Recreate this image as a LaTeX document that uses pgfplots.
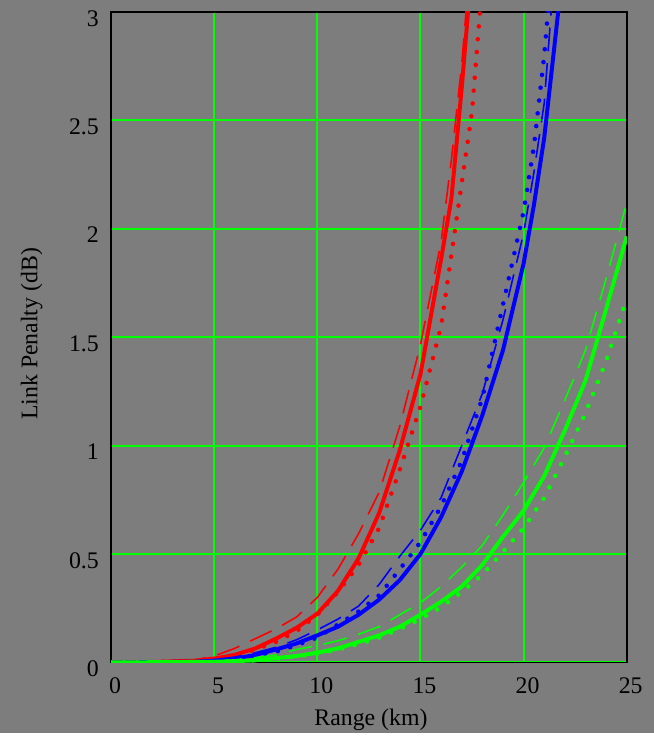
\documentclass[border=0pt]{standalone}
\usepackage{fontspec}
\setmainfont{Liberation Serif}
\usepackage{pgfplots}
\pgfplotsset{compat=1.18}
\definecolor{bg}{RGB}{125,125,125}
\definecolor{grd}{RGB}{0,255,0}
\definecolor{cr}{RGB}{255,0,0}
\definecolor{cb}{RGB}{0,0,255}
\definecolor{cg}{RGB}{0,255,0}
\tikzset{
  thick solid/.style={line width=2pt, line join=round},
  thin dashed/.style={line width=0.8pt, dash pattern=on 12pt off 6pt},
  thick dotted/.style={line width=2.3pt, line cap=round, dash pattern=on 0pt off 6.5pt},
}
\begin{document}
\fontsize{12}{14}\selectfont
\begin{tikzpicture}
\fill[bg] (-56pt,-35.5pt) rectangle (273.5pt,334pt);
\begin{axis}[
  scale only axis,
  width=260pt, height=328pt,
  xmin=0, xmax=25, ymin=0, ymax=3,
  xtick={0,5,10,15,20,25},
  ytick={0,0.5,1,1.5,2,2.5,3},
  grid=major,
  major grid style={grd, line width=1pt},
  axis line style={black, line width=0.8pt},
  major tick length=0pt,
  /pgf/number format/assume math mode=true,
  tick label style={font=\fontsize{12}{14}\selectfont},
  xticklabel style={anchor=north, inner sep=0pt, xshift=2pt, yshift=-7.5pt},
  yticklabel style={anchor=north east, inner sep=0pt, xshift=-6pt, yshift=1pt},
  xlabel={Range (km)},
  ylabel={Link Penalty (dB)},
  xlabel style={at={(axis description cs:0.504,0)}, anchor=base, yshift=-32pt, font=\fontsize{12}{14}\selectfont},
  ylabel style={at={(axis description cs:-0.154,0.505)}, anchor=center, rotate=0, font=\fontsize{12}{14}\selectfont},
]
% red
\addplot[cr, thick solid] coordinates {(0,0) (2,0.002) (4,0.008) (5,0.018) (6,0.035) (7,0.065) (8,0.11) (9,0.16) (10,0.225) (11,0.33) (12,0.48) (13,0.69) (14,0.98) (15,1.33) (16,1.86) (16.5,2.14) (17,2.65) (17.35,3.05)};
\addplot[cr, thin dashed] coordinates {(0,0) (4,0.005) (4.5,0.02) (5,0.03) (6,0.065) (7,0.11) (8,0.155) (9,0.21) (10,0.30) (11,0.43) (12,0.594) (13,0.785) (14,1.09) (15,1.466) (16,1.94) (16.5,2.32) (17,2.76) (17.25,3.05)};
\addplot[cr, thick dotted] coordinates {(0,0) (4,0.004) (5,0.012) (6,0.03) (7,0.06) (8,0.095) (9,0.145) (10,0.22) (11,0.325) (12,0.45) (13,0.62) (14,0.89) (15,1.18) (16,1.55) (16.5,1.88) (17,2.21) (17.5,2.54) (17.9,3.02)};
% blue
\addplot[cb, thick solid] coordinates {(0,0) (4,0.003) (5,0.008) (6,0.017) (7,0.035) (8,0.06) (9,0.088) (10,0.125) (11,0.165) (12,0.22) (13,0.29) (14,0.38) (15,0.50) (16,0.67) (17,0.88) (18,1.14) (19,1.44) (20,1.84) (20.5,2.11) (21,2.42) (21.7,3.02)};
\addplot[cb, thin dashed] coordinates {(0,0) (4,0.004) (5,0.012) (6,0.025) (7,0.045) (8,0.07) (9,0.105) (10,0.15) (11,0.2) (12,0.26) (13,0.36) (14,0.49) (15,0.61) (16,0.76) (17,1.0) (18,1.24) (19,1.58) (20,1.98) (20.5,2.26) (21,2.58) (21.35,3.02)};
\addplot[cb, thick dotted] coordinates {(0,0) (4,0.003) (5,0.008) (6,0.016) (7,0.03) (8,0.05) (9,0.08) (10,0.115) (11,0.175) (12,0.235) (13,0.31) (14,0.43) (15,0.555) (16,0.72) (17,0.93) (18,1.22) (19,1.65) (20,2.08) (20.5,2.38) (21,2.8) (21.2,3.02)};
% green
\addplot[cg, thick solid] coordinates {(0,0) (5,0.003) (6,0.006) (7,0.01) (8,0.02) (9,0.03) (10,0.045) (11,0.065) (12,0.095) (13,0.125) (14,0.165) (15,0.22) (16,0.28) (17,0.35) (18,0.45) (19,0.58) (20,0.70) (21,0.86) (22,1.07) (23,1.30) (24,1.63) (25,1.965)};
\addplot[cg, thin dashed] coordinates {(0,0) (5,0.005) (6,0.012) (7,0.022) (8,0.035) (9,0.06) (10,0.078) (11,0.10) (12,0.13) (13,0.165) (14,0.22) (15,0.275) (16,0.35) (17,0.44) (18,0.54) (19,0.68) (20,0.83) (21,0.99) (22,1.21) (23,1.44) (24,1.77) (25,2.12)};
\addplot[cg, thick dotted] coordinates {(0,0) (5,0.002) (6,0.005) (7,0.01) (8,0.018) (9,0.028) (10,0.04) (11,0.06) (12,0.085) (13,0.115) (14,0.155) (15,0.20) (16,0.255) (17,0.325) (18,0.405) (19,0.51) (20,0.62) (21,0.76) (22,0.95) (23,1.15) (24,1.39) (25,1.68)};
\end{axis}
\end{tikzpicture}
\end{document}
